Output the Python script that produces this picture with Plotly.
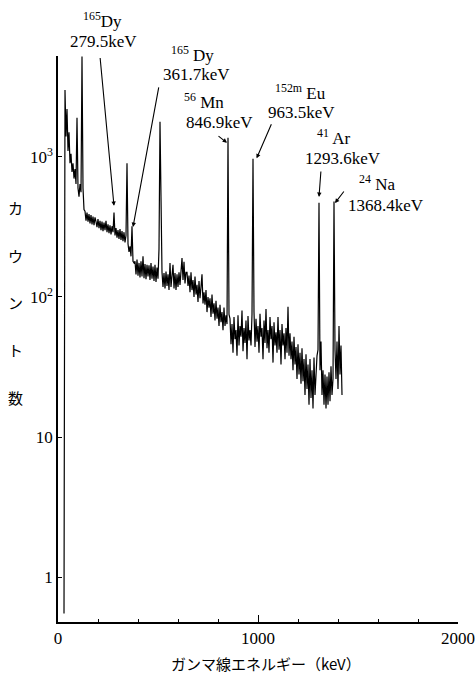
import plotly.graph_objects as go
import numpy as np

# ---------------- data ----------------
KEV_PER_CHANNEL = 5.0   # energy calibration of the MCA channels

# counts per channel (channel 0 = 0 keV)
counts = [
    None, None, None, None, None, None,            # 0-25 keV (below threshold)
    0.55, 3000, 1400, 2200, 1100, 1500, 900,       # 30-60
    1050, 780, 900, 700, 820, 640,                 # 65-90
    1900,                                          # 95
    600, 520, 640, 560,                            # 100-115
    5200,                                          # 120
    600, 420,                                      # 125-130
    410, 350, 400, 345, 390, 335, 385, 330, 375, 325,
    370, 345, 315, 360, 310, 350, 300, 345, 295, 340,
    300, 350, 290, 330, 285, 325, 280, 320, 290,   # 135-275
    400,                                           # 280 (165Dy 279.5)
    275, 310, 265, 300, 260, 305, 255, 295, 250, 290, 245, 275,
    900,                                           # 345
    240, 210, 230, 195, 320, 180, 175,             # 350-380
    180, 145, 185, 142, 175, 138, 180, 140, 195, 136,
    172, 134, 170, 140, 168, 132, 175, 135, 165, 130,
    170, 128, 162, 135,                            # 385-500
    220, 1780, 250,                                # 505-515 (511)
    150, 118, 148, 115, 152, 120, 145, 112, 175, 118,
    150, 170, 115, 148, 112, 145, 118, 150, 122,   # 520-610
    150, 190, 132, 178, 125, 150,                  # 615-640
    150, 120, 142, 108, 150, 112, 132, 100, 140, 104,
    122, 92, 130, 98, 118, 145, 90, 108, 88, 112,
    78, 100, 84, 98, 72, 104, 76, 90, 68, 94,
    70, 84, 62, 88, 66, 78, 58, 84, 62, 74, 64,    # 645-845
    1370,                                          # 850 (56Mn)
    75,
    70, 46, 64, 40, 72, 50, 58, 38, 74, 45,
    62, 52, 80, 41, 60, 47, 68, 36, 73, 49, 58, 45,  # 860-965
    75, 970, 78,                                   # 970-980 (152mEu)
    44, 70, 48, 62, 40, 76, 52, 60, 36, 68,
    47, 82, 43, 58, 40, 72, 50, 62, 34, 66,
    45, 56, 40, 72, 42, 58, 33, 64, 45, 55, 36, 60, 40,  # 985-1145
    85, 38,                                        # 1150-1155
    55, 36, 48, 30, 52, 33, 44, 26, 46, 28,
    40, 24, 43, 25, 36, 20, 39, 22, 33, 17,
    36, 19, 30, 16, 37, 20, 31, 38, 42,            # 1160-1300
    470,                                           # 1305 (41Ar)
    30, 48, 20,
    30, 17, 28, 16, 27, 17, 29, 18, 32, 20, 26,    # 1325-1375
    480,                                           # 1380 (24Na)
    42, 26, 48, 22, 62, 28, 45, 20,                # 1385-1420
]
energy = [KEV_PER_CHANNEL * i for i in range(len(counts))]

x_ticks = [0, 1000, 2000]
x_ticktext = ["0", "1000", "2000"]
x_minor = [200, 400, 600, 800, 1200, 1400, 1600, 1800]
y_ticks = [1, 10, 100, 1000]
y_ticktext = ["1", "10", "10<sup>2</sup>", "10<sup>3</sup>"]
Y_RANGE_LOG = [-0.32, 3.72]

# peak labels: (nuclide text, energy text, nuclide label pos, energy label pos) in (keV, counts)
labels = [
    ("<sup>165</sup>Dy",   "279.5keV",  (220, 9500), (225, 6620)),
    ("<sup>165</sup> Dy",  "361.7keV",  (670, 5450), (690, 3850)),
    ("<sup>56</sup> Mn",   "846.9keV",  (730, 2510), (805, 1750)),
    ("<sup>152m</sup> Eu", "963.5keV",  (1210, 2910), (1215, 2060)),
    ("<sup>41</sup> Ar",   "1293.6keV", (1375, 1390), (1425, 970)),
    ("<sup>24</sup> Na",   "1368.4keV", (1595, 650), (1640, 447)),
]
# arrows: (tail keV, tail counts) -> (tip keV, tip counts)
arrows = [
    ((210, 5200), (280, 447)),
    ((505, 3210), (375, 316)),
    ((795, 1435), (845, 1260)),
    ((1070, 1750), (993, 977)),
    ((1315, 807), (1305, 518)),
    ((1435, 580), (1385, 468)),
]

ylabel_chars = ["カ", "ウ", "ン", "ト", "数"]
xlabel = "ガンマ線エネルギー（keV）"

# ---------------- figure ----------------
SERIF = "Liberation Serif, DejaVu Serif, serif"
CJK = "Noto Sans CJK JP"


def to_paper(c):
    return (np.log10(c) - Y_RANGE_LOG[0]) / (Y_RANGE_LOG[1] - Y_RANGE_LOG[0])


fig = go.Figure()
fig.add_trace(go.Scatter(
    x=energy, y=counts, mode="lines",
    line=dict(color="black", width=1.2),
    connectgaps=False, hoverinfo="skip", showlegend=False,
))

ann = []
for nuc, en, p1, p2 in labels:
    for txt, p in ((nuc, p1), (en, p2)):
        ann.append(dict(x=p[0], y=to_paper(p[1]), xref="x", yref="paper", text=txt,
                        xanchor="center", yanchor="middle", showarrow=False,
                        font=dict(family=SERIF, size=17, color="black")))
for tail, tip in arrows:
    ann.append(dict(x=tip[0], y=np.log10(tip[1]), xref="x", yref="y",
                    ax=tail[0], ay=np.log10(tail[1]), axref="x", ayref="y",
                    text="", showarrow=True, arrowhead=2, arrowsize=0.8,
                    arrowwidth=1.1, arrowcolor="black"))

ypos = [0.733, 0.648, 0.565, 0.481, 0.396]
for ch, yp in zip(ylabel_chars, ypos):
    ann.append(dict(x=-0.1075, y=yp, xref="paper", yref="paper", text=ch,
                    xanchor="center", yanchor="middle", showarrow=False,
                    font=dict(family=CJK, size=15, color="black")))
ann.append(dict(x=0.52, y=-0.074, xref="paper", yref="paper", text=xlabel,
                xanchor="center", yanchor="middle", showarrow=False,
                font=dict(family=CJK, size=15, color="black")))

fig.update_layout(
    width=476, height=676,
    margin=dict(l=58, r=18, t=56, b=54, autoexpand=False),
    plot_bgcolor="white", paper_bgcolor="white",
    annotations=ann,
    xaxis=dict(
        range=[0, 2000], showgrid=False, zeroline=False, automargin=False,
        showline=True, linecolor="black", linewidth=1.5,
        ticks="inside", ticklen=7, tickwidth=1.2, tickcolor="black",
        tickvals=x_ticks, ticktext=x_ticktext,
        tickfont=dict(family=SERIF, size=17, color="black"),
        minor=dict(tickvals=x_minor, ticks="inside", ticklen=3,
                   tickwidth=1, tickcolor="black", showgrid=False),
    ),
    yaxis=dict(
        type="log", range=Y_RANGE_LOG, showgrid=False, zeroline=False, automargin=False,
        showline=True, linecolor="black", linewidth=1.5,
        ticks="inside", ticklen=4, tickwidth=1.2, tickcolor="black",
        tickvals=y_ticks, ticktext=y_ticktext,
        tickfont=dict(family=SERIF, size=17, color="black"),
    ),
)

fig.write_html(
    "out.html",
    config={"displayModeBar": False},
    post_script="document.body.style.margin='0px';document.body.style.overflow='hidden';",
)
